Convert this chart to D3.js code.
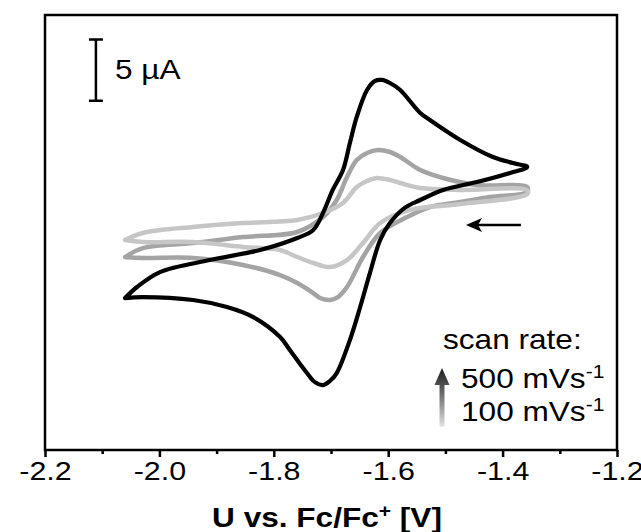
<!DOCTYPE html>
<html>
<head>
<meta charset="utf-8">
<script src="https://cdn.jsdelivr.net/npm/d3@7"></script>
<style>
  body { margin: 0; background: #fff; }
  svg text { font-family: "Liberation Sans", Arial, sans-serif; fill: #000; }
</style>
</head>
<body>
<div id="wrapper"></div>
<script>
// 1. Data (potential in V vs Fc/Fc+, current in µA; each loop: forward sweep then return sweep)

const potential500 = [-2.060, -2.039, -1.999, -1.912, -1.824, -1.759, -1.731, -1.714, -1.697, -1.679, -1.667, -1.655, -1.637, -1.623, -1.611, -1.597, -1.579, -1.544, -1.527, -1.474, -1.417, -1.382, -1.357,
    -1.387, -1.445, -1.504, -1.544, -1.570, -1.597, -1.614, -1.632, -1.649, -1.667, -1.690, -1.702, -1.714, -1.728, -1.742, -1.772, -1.789, -1.836, -1.882, -1.941, -2.029, -2.060]
const current500 = [-4.10, -3.20, -1.98, -1.00, -0.18, 0.80, 1.45, 2.84, 4.72, 6.35, 8.55, 10.68, 12.88, 13.62, 13.70, 13.45, 12.88, 11.00, 10.43, 8.80, 7.41, 6.92, 6.60,
    6.11, 5.37, 4.72, 3.90, 3.30, 2.02, 0.64, -2.06, -4.83, -7.53, -10.22, -10.87, -11.20, -10.96, -10.22, -8.34, -7.28, -5.65, -4.83, -4.26, -4.02, -4.10]

const potential300 = [-2.060, -2.029, -1.941, -1.854, -1.759, -1.714, -1.690, -1.672, -1.655, -1.637, -1.618, -1.597, -1.579, -1.544, -1.504, -1.445, -1.357,
    -1.357, -1.422, -1.474, -1.527, -1.567, -1.614, -1.644, -1.672, -1.688, -1.702, -1.719, -1.731, -1.759, -1.789, -1.854, -1.941, -2.029, -2.060]
const current300 = [-0.75, -0.02, 0.39, 0.88, 1.29, 2.51, 3.90, 5.78, 7.17, 7.74, 7.98, 7.82, 7.41, 6.35, 5.70, 5.13, 4.96,
    4.56, 4.15, 3.74, 3.33, 2.51, 1.21, -0.75, -3.20, -4.02, -4.26, -4.10, -3.69, -2.87, -2.22, -1.40, -0.83, -0.83, -0.75]

const potential100 = [-2.060, -2.029, -1.941, -1.854, -1.759, -1.714, -1.679, -1.655, -1.637, -1.620, -1.597, -1.579, -1.544, -1.474, -1.357,
    -1.357, -1.474, -1.562, -1.614, -1.644, -1.672, -1.702, -1.731, -1.759, -1.789, -1.854, -1.941, -2.029, -2.060]
const current100 = [0.64, 1.21, 1.70, 2.02, 2.27, 2.84, 3.66, 4.96, 5.45, 5.70, 5.53, 5.29, 4.88, 4.72, 4.72,
    4.39, 3.57, 3.09, 2.02, 0.39, -1.00, -1.57, -1.24, -0.75, -0.18, 0.07, 0.47, 0.47, 0.64]

const majorTicks = [-2.2, -2.0, -1.8, -1.6, -1.4, -1.2]
const minorTicks = [-2.1, -1.9, -1.7, -1.5, -1.3]
const legendLabels = ["500 mVs", "100 mVs"]

// 2. Dimensions

const width = 641
let dimensions = {
    width: width,
    height: 532,
    margin: { top: 15, right: 24, bottom: 82, left: 45 },
}
dimensions.boundedWidth = dimensions.width - dimensions.margin.left - dimensions.margin.right
dimensions.boundedHeight = dimensions.height - dimensions.margin.top - dimensions.margin.bottom

const textStretch = 1.17   // the original figure is stretched horizontally a little

// 3. Canvas

const wrapper = d3.select("#wrapper")
    .append("svg")
    .attr("width", dimensions.width)
    .attr("height", dimensions.height)

const bounds = wrapper.append("g")
    .attr("transform", `translate(${dimensions.margin.left},${dimensions.margin.top})`)

// 4. Scales

const xScale = d3.scaleLinear()
    .domain([-2.2, -1.2])
    .range([0, dimensions.boundedWidth])

const yScale = d3.scaleLinear()
    .domain([-16.5, 19])
    .range([dimensions.boundedHeight, 0])

// 5. Curves

const lineGen = d3.line()
    .x(d => xScale(d[0]))
    .y(d => yScale(d[1]))
    .curve(d3.curveCatmullRom.alpha(0.5))

const series = [
    { v: potential300, i: current300, color: "#a4a4a4", w: 4.5 },
    { v: potential100, i: current100, color: "#c6c6c6", w: 4.5 },
    { v: potential500, i: current500, color: "#000", w: 4.2 },
]

bounds.selectAll(".cv")
    .data(series)
    .join("path")
    .attr("class", "cv")
    .attr("d", s => lineGen(d3.zip(s.v, s.i)))
    .attr("fill", "none")
    .attr("stroke", s => s.color)
    .attr("stroke-width", s => s.w)
    .attr("stroke-linejoin", "round")
    .attr("stroke-linecap", "round")

// 6. Peripherals

bounds.append("rect")
    .attr("width", dimensions.boundedWidth)
    .attr("height", dimensions.boundedHeight)
    .attr("fill", "none")
    .attr("stroke", "#000")
    .attr("stroke-width", 2.5)

const xAxis = bounds.append("g")
    .attr("transform", `translate(0,${dimensions.boundedHeight})`)
    .call(d3.axisBottom(xScale).tickValues(majorTicks).tickSize(7).tickPadding(5)
        .tickFormat(d => d.toFixed(1)))
xAxis.select(".domain").remove()
xAxis.selectAll(".tick line").attr("stroke-width", 2.5)
xAxis.selectAll(".tick text")
    .attr("font-size", 26)
    .attr("fill", "#000")
    .attr("transform", `scale(${textStretch},1)`)
    .style("font-family", "'Liberation Sans', Arial, sans-serif")

const xMinor = bounds.append("g")
    .attr("transform", `translate(0,${dimensions.boundedHeight})`)
    .call(d3.axisBottom(xScale).tickValues(minorTicks).tickSize(4).tickFormat(""))
xMinor.select(".domain").remove()
xMinor.selectAll(".tick line").attr("stroke-width", 2.5)

// axis title
const title = wrapper.append("text")
    .attr("transform", `translate(327,527) scale(${textStretch},1)`)
    .attr("text-anchor", "middle")
    .attr("font-size", 27)
    .attr("font-weight", "bold")
title.append("tspan").text("U vs. Fc/Fc")
title.append("tspan").attr("font-size", 18).attr("dy", -10).text("+")
title.append("tspan").attr("dy", 10).text(" [V]")

// 5 µA scale bar
const barX = xScale(-2.111)
const bar = bounds.append("g").attr("stroke", "#000").attr("stroke-width", 2.5)
bar.append("line").attr("x1", barX).attr("x2", barX).attr("y1", yScale(17)).attr("y2", yScale(12))
bar.append("line").attr("x1", barX - 7).attr("x2", barX + 7).attr("y1", yScale(17)).attr("y2", yScale(17))
bar.append("line").attr("x1", barX - 7).attr("x2", barX + 7).attr("y1", yScale(12)).attr("y2", yScale(12))
bounds.append("text")
    .attr("transform", `translate(${barX + 19},${yScale(14.5) + 9}) scale(${textStretch},1)`)
    .attr("font-size", 27)
    .text("5 µA")

// scan direction arrow
const arrY = yScale(1.86)
const arrX0 = xScale(-1.464), arrX1 = xScale(-1.368)
bounds.append("line")
    .attr("x1", arrX0 + 8).attr("x2", arrX1)
    .attr("y1", arrY).attr("y2", arrY)
    .attr("stroke", "#000").attr("stroke-width", 2.5)
bounds.append("path")
    .attr("d", `M${arrX0},${arrY} L${arrX0 + 16},${arrY - 7} L${arrX0 + 12},${arrY} L${arrX0 + 16},${arrY + 7} Z`)
    .attr("fill", "#000")

// legend
const defs = wrapper.append("defs")
const grad = defs.append("linearGradient")
    .attr("id", "rateGrad")
    .attr("gradientUnits", "userSpaceOnUse")
    .attr("x1", 0).attr("y1", 368).attr("x2", 0).attr("y2", 428)
grad.append("stop").attr("offset", 0).attr("stop-color", "#1a1a1a")
grad.append("stop").attr("offset", 0.45).attr("stop-color", "#707070")
grad.append("stop").attr("offset", 1).attr("stop-color", "#e8e8e8")

wrapper.append("path")
    .attr("d", "M442,368 L449.5,385 L444.5,385 L444.5,426 Q442,428 439.5,426 L439.5,385 L434.5,385 Z")
    .attr("fill", "url(#rateGrad)")

wrapper.append("text")
    .attr("transform", `translate(443,349) scale(${textStretch},1)`)
    .attr("font-size", 27)
    .text("scan rate:")

wrapper.selectAll(".rate")
    .data(legendLabels)
    .join("text")
    .attr("class", "rate")
    .attr("transform", (d, i) => `translate(461,${388 + i * 33}) scale(${textStretch},1)`)
    .attr("font-size", 27)
    .each(function (d) {
        const t = d3.select(this)
        t.append("tspan").text(d)
        t.append("tspan").attr("font-size", 18).attr("dy", -10).text("-1")
    })
</script>
</body>
</html>
